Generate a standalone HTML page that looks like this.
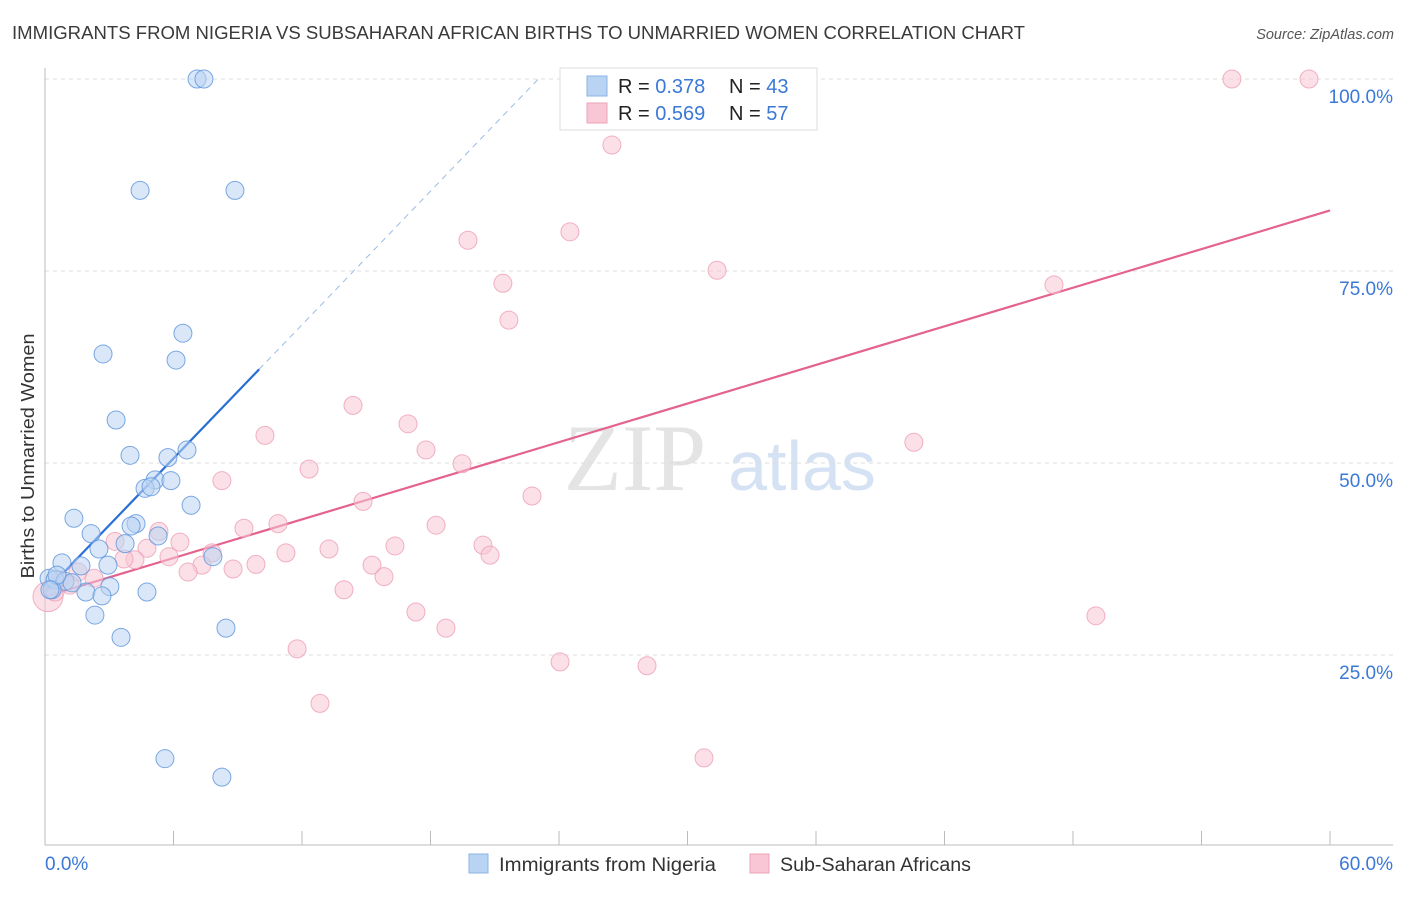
<!DOCTYPE html>
<html><head><meta charset="utf-8"><style>
body{margin:0;background:#fff;font-family:"Liberation Sans",sans-serif;}
</style></head><body>
<svg width="1406" height="892" xmlns="http://www.w3.org/2000/svg" id="chart" font-family="Liberation Sans, sans-serif">
<text x="12" y="39" font-size="18" fill="#3a3a3a" textLength="1013" lengthAdjust="spacingAndGlyphs">IMMIGRANTS FROM NIGERIA VS SUBSAHARAN AFRICAN BIRTHS TO UNMARRIED WOMEN CORRELATION CHART</text>
<text x="1394" y="39" font-size="14.5" fill="#555" font-style="italic" text-anchor="end">Source: ZipAtlas.com</text>
<text x="0" y="0" font-size="18.5" fill="#333" text-anchor="middle" textLength="245" lengthAdjust="spacingAndGlyphs" transform="translate(34 456) rotate(-90)">Births to Unmarried Women</text>
<g><text x="635" y="490" font-size="95" fill="#e4e4e4" font-family="Liberation Serif, serif" text-anchor="middle">ZIP</text><text x="802" y="490" font-size="70" fill="#d5e2f4" text-anchor="middle">atlas</text></g>
<g id="grid"></g><g id="ticks"></g><g id="lines"></g><g id="pts"></g>
<g>
<rect x="560" y="68" width="257" height="62" fill="#fff" stroke="#ddd"/>
<rect x="587" y="76" width="20" height="20" fill="#b9d3f3" stroke="#8cb3e6"/>
<rect x="587" y="103" width="20" height="20" fill="#f8c6d4" stroke="#eea3b9"/>
<text x="618" y="93" font-size="20" fill="#222">R = <tspan fill="#3b78d8">0.378</tspan></text>
<text x="729" y="93" font-size="20" fill="#222">N = <tspan fill="#3b78d8">43</tspan></text>
<text x="618" y="120" font-size="20" fill="#222">R = <tspan fill="#3b78d8">0.569</tspan></text>
<text x="729" y="120" font-size="20" fill="#222">N = <tspan fill="#3b78d8">57</tspan></text>
</g>
<g>
<rect x="469" y="854" width="19" height="19" fill="#b9d3f3" stroke="#8cb3e6"/>
<text x="499" y="871" font-size="19" fill="#333" textLength="217" lengthAdjust="spacingAndGlyphs">Immigrants from Nigeria</text>
<rect x="750" y="854" width="19" height="19" fill="#f8c6d4" stroke="#eea3b9"/>
<text x="780" y="871" font-size="19" fill="#333" textLength="191" lengthAdjust="spacingAndGlyphs">Sub-Saharan Africans</text>
</g>
</svg>
<script>
const xTicks=[0,6,12,18,24,30,36,42,48,54,60];
const yTicks=[25,50,75,100];
const blueX=[7.10,7.42,4.44,8.87,6.44,2.71,6.12,3.32,3.97,5.74,6.63,5.14,5.88,4.67,4.95,6.82,1.35,4.25,4.02,2.15,5.28,3.74,2.52,7.84,0.79,2.94,1.68,3.03,1.91,4.76,2.66,0.19,0.47,0.93,1.26,0.33,2.33,3.55,8.45,5.60,8.26,0.56,0.23];
const blueY=[100,100,85.5,85.5,66.9,64.2,63.4,55.6,51.0,50.7,51.7,47.8,47.7,46.7,46.9,44.5,42.8,42.1,41.8,40.8,40.5,39.5,38.8,37.8,37.0,36.7,36.6,33.9,33.2,33.2,32.7,35.0,34.8,34.6,34.4,33.5,30.2,27.3,28.5,11.5,9.1,35.4,33.5];
const pinkX=[55.42,59.02,35.30,26.47,24.51,19.75,31.38,21.38,47.11,21.66,14.38,10.27,16.95,17.79,40.57,19.47,12.33,8.26,22.74,14.85,10.88,9.29,18.26,5.32,3.27,6.30,4.76,16.34,13.26,20.45,20.78,11.25,7.80,5.79,4.20,9.85,15.27,15.83,7.33,8.78,6.68,13.96,2.29,1.54,0.70,17.32,18.72,11.77,12.84,24.05,28.11,30.77,49.07,0.14,0.47,1.17,3.69];
const pinkY=[100,100,100,91.4,80.1,79.0,75.1,73.4,73.2,68.6,57.5,53.6,55.1,51.7,52.7,49.9,49.2,47.7,45.7,45.0,42.1,41.5,41.9,41.1,39.8,39.7,38.9,39.2,38.8,39.3,38.0,38.3,38.3,37.8,37.4,36.8,36.7,35.2,36.7,36.2,35.8,33.5,35.0,35.8,34.8,30.6,28.5,25.8,18.7,24.1,23.6,11.6,30.1,32.6,33.2,34.1,37.5];
const blueFit=[33.2,2.9];
const pinkFit=[32.6,0.838];
const NS='http://www.w3.org/2000/svg';
const X=v=>45+v/60*1285, Y=v=>847-v/100*768;
function mk(t,a,p){const e=document.createElementNS(NS,t);for(const k in a)e.setAttribute(k,a[k]);p.appendChild(e);return e;}
const grid=document.getElementById('grid'),tk=document.getElementById('ticks'),ln=document.getElementById('lines'),pts=document.getElementById('pts');
yTicks.forEach(v=>{
 const l=mk('line',{x1:45,x2:1393,y1:Y(v),y2:Y(v),stroke:'#ddd','stroke-dasharray':'4,4'},grid);
 
 
 const t=mk('text',{x:1393,y:Y(v)+24,'font-size':19,fill:'#3b78d8','text-anchor':'end'},tk);t.textContent=v.toFixed(1)+'%';
 
 
});
mk('line',{x1:45,x2:45,y1:68,y2:845,stroke:'#bbb'},tk);
mk('line',{x1:45,x2:1393,y1:845,y2:845,stroke:'#bbb'},tk);
xTicks.forEach(v=>{const l=mk('line',{x1:X(v),x2:X(v),y1:831,y2:845,stroke:'#bbb'},tk);
 
 });
[[0,'start',45],[60,'end',1393]].forEach(([v,a,x])=>{const t=mk('text',{x:x,y:870,'font-size':19,fill:'#3b78d8','text-anchor':a},tk);t.textContent=v.toFixed(1)+'%';
 
 });
function pt(x,y,f,s,r){const c=mk('circle',{cx:X(x),cy:Y(y),r:r,fill:f,'fill-opacity':0.55,stroke:s,'stroke-opacity':0.8},pts);return c;}
pinkX.forEach((x,i)=>{const c=pt(x,pinkY[i],'#f8c6d4','#ee9fb6',i==53?15:9);
 
 });
blueX.forEach((x,i)=>{const c=pt(x,blueY[i],'#b9d3f3','#5b93dc',9);
 
 });
const bEnd=(100-blueFit[0])/blueFit[1];
let l1=mk('line',{x1:X(0),y1:Y(blueFit[0]),x2:X(10),y2:Y(blueFit[0]+10*blueFit[1]),stroke:'#2a6fd6','stroke-width':2.2},ln);


let l2=mk('line',{x1:X(10),y1:Y(blueFit[0]+10*blueFit[1]),x2:X(bEnd),y2:Y(100),stroke:'#9bbbe6','stroke-width':1,'stroke-dasharray':'6,5'},ln);


let l3=mk('line',{x1:X(0),y1:Y(pinkFit[0]),x2:X(60),y2:Y(pinkFit[0]+60*pinkFit[1]),stroke:'#e4628e','stroke-width':2.2},ln);


</script>
</body></html>
